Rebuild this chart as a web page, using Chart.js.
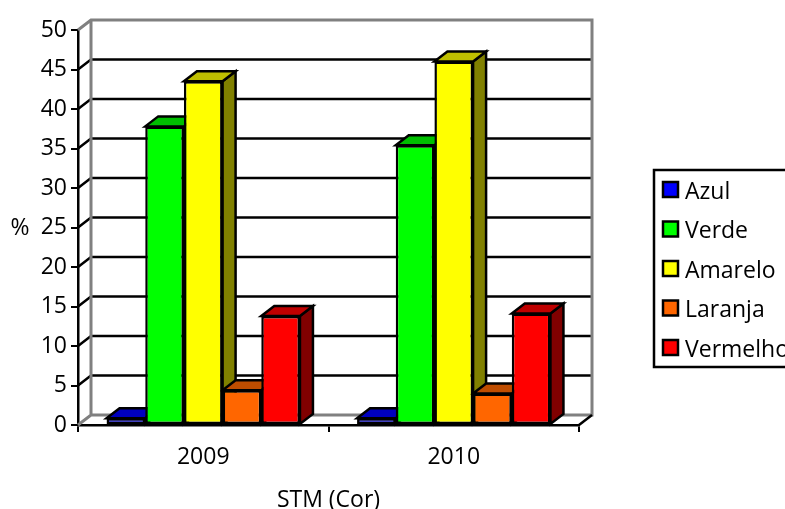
<!DOCTYPE html>
<html>
<head>
<meta charset="utf-8">
<script src="https://cdn.jsdelivr.net/npm/chart.js@4"></script>
<style>html,body{margin:0;padding:0;background:#fff}canvas{display:block}</style>
</head>
<body>
<canvas id="c" width="785" height="509"></canvas>
<script>
const categories = ['2009', '2010'];
const seriesNames = ['Azul', 'Verde', 'Amarelo', 'Laranja', 'Vermelho'];
const azul = [0.85, 0.85];
const verde = [37.8, 35.4];
const amarelo = [43.5, 46.0];
const laranja = [4.4, 4.0];
const vermelho = [13.8, 14.1];
const seriesColors = [[0,0,255],[0,255,0],[255,255,0],[255,102,0],[255,0,0]];
const yTicks = [0,5,10,15,20,25,30,35,40,45,50];
const xTitle = 'STM (Cor)';
const yTitle = '%';

const FONT = '"Open Sans", sans-serif';
const FS = 23;
const DX = 13, DY = 10;
const LW = 2.5;
const rgb = (c, k) => `rgb(${Math.round(c[0]*k)},${Math.round(c[1]*k)},${Math.round(c[2]*k)})`;
const seriesValues = [azul, verde, amarelo, laranja, vermelho];

const threeD = {
  id: 'threeD',
  beforeDatasetsDraw(chart) {
    const ctx = chart.ctx, a = chart.chartArea, ys = chart.scales.y;
    ctx.save();
    ctx.lineWidth = LW; ctx.lineCap = 'butt'; ctx.lineJoin = 'miter';
    ctx.strokeStyle = '#000';
    yTicks.forEach(v => {
      if (v === 0 || v === 50) return;
      const y = ys.getPixelForValue(v);
      ctx.beginPath();
      ctx.moveTo(a.left, y); ctx.lineTo(a.left + DX, y - DY); ctx.lineTo(a.right + DX, y - DY);
      ctx.stroke();
    });
    ctx.strokeStyle = '#808080';
    ctx.lineWidth = 3;
    ctx.beginPath();
    ctx.moveTo(a.left, a.top); ctx.lineTo(a.left + DX, a.top - DY); ctx.lineTo(a.right + DX, a.top - DY);
    ctx.lineTo(a.right + DX, a.bottom - DY); ctx.lineTo(a.left + DX, a.bottom - DY); ctx.lineTo(a.left, a.bottom);
    ctx.moveTo(a.left + DX, a.top - DY); ctx.lineTo(a.left + DX, a.bottom - DY);
    ctx.stroke();
    ctx.strokeStyle = '#000'; ctx.lineWidth = LW;
    ctx.beginPath();
    ctx.moveTo(a.right, a.bottom); ctx.lineTo(a.right + DX, a.bottom - DY);
    ctx.stroke();
    categories.forEach((_, ci) => {
      chart.data.datasets.forEach((ds, di) => {
        const el = chart.getDatasetMeta(di).data[ci];
        const x1 = el.x - el.width / 2, x2 = el.x + el.width / 2, t = el.y, b = el.base;
        const c = seriesColors[di];
        ctx.strokeStyle = '#000'; ctx.lineWidth = LW; ctx.lineJoin = 'miter';
        ctx.fillStyle = rgb(c, 0.5);
        ctx.beginPath();
        ctx.moveTo(x2, t); ctx.lineTo(x2 + DX, t - DY); ctx.lineTo(x2 + DX, b - DY); ctx.lineTo(x2, b); ctx.closePath();
        ctx.fill(); ctx.stroke();
        ctx.fillStyle = rgb(c, 0.75);
        ctx.beginPath();
        ctx.moveTo(x1, t); ctx.lineTo(x1 + DX, t - DY); ctx.lineTo(x2 + DX, t - DY); ctx.lineTo(x2, t); ctx.closePath();
        ctx.fill(); ctx.stroke();
      });
    });
    ctx.restore();
  },
  afterDraw(chart) {
    const ctx = chart.ctx;
    ctx.save();
    ctx.fillStyle = '#000'; ctx.font = `${FS}px ${FONT}`;
    ctx.textAlign = 'center'; ctx.textBaseline = 'middle';
    ctx.fillText(yTitle, 20, 228);
    ctx.strokeStyle = '#000'; ctx.lineWidth = LW;
    ctx.strokeRect(654, 170, 140, 197);
    ctx.textAlign = 'left';
    seriesNames.forEach((n, i) => {
      const y = 182 + i * 39.5;
      ctx.fillStyle = rgb(seriesColors[i], 1);
      ctx.fillRect(663, y, 15, 15);
      ctx.strokeRect(663, y, 15, 15);
      ctx.fillStyle = '#000';
      ctx.fillText(n, 685, y + 10);
    });
    ctx.restore();
  }
};

new Chart(document.getElementById('c'), {
  type: 'bar',
  data: {
    labels: categories,
    datasets: seriesNames.map((n, i) => ({
      label: n,
      data: seriesValues[i],
      backgroundColor: rgb(seriesColors[i], 1),
      borderColor: '#000',
      borderWidth: LW,
      borderSkipped: false,
      categoryPercentage: 0.772,
      barPercentage: 1
    }))
  },
  options: {
    responsive: false,
    animation: false,
    layout: { padding: { left: 0, top: 30, right: 206, bottom: 0 } },
    plugins: { legend: { display: false }, tooltip: { enabled: false } },
    scales: {
      x: {
        afterFit(s) { s.height = 84; },
        grid: { drawOnChartArea: false, drawTicks: true, tickLength: 7, color: '#000', lineWidth: 2 },
        border: { display: true, color: '#000', width: 2.5 },
        ticks: { color: '#000', font: { family: FONT, size: FS }, padding: 12, maxRotation: 0 },
        title: { display: true, text: xTitle, color: '#000', font: { family: FONT, size: FS, lineHeight: 1 }, padding: { top: 0, bottom: -3 } }
      },
      y: {
        min: 0, max: 50,
        afterFit(s) { s.width = 78; },
        afterBuildTicks(s) { s.ticks = yTicks.map(v => ({ value: v })); },
        grid: { drawOnChartArea: false, drawTicks: true, tickLength: 7, color: '#000', lineWidth: 2 },
        border: { display: true, color: '#000', width: 2.5 },
        ticks: { color: '#000', font: { family: FONT, size: FS }, padding: 4 }
      }
    }
  },
  plugins: [threeD]
});
</script>
</body>
</html>
